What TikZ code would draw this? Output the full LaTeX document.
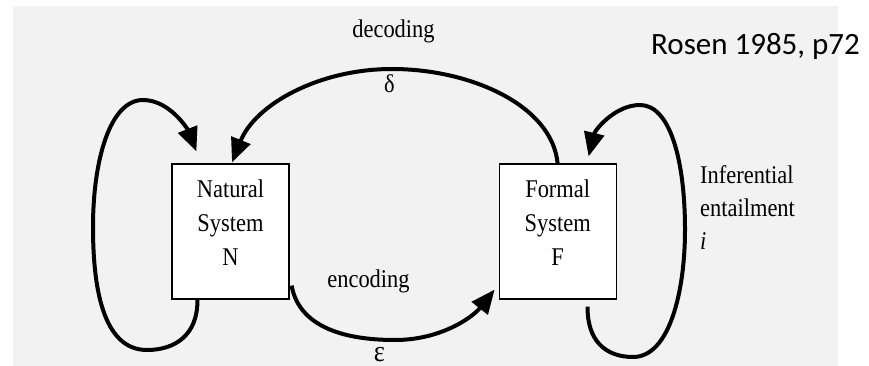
\documentclass[tikz,border=0pt]{standalone}
\usepackage{fontspec}
\setmainfont{Liberation Serif}[FakeStretch=0.88]
\newfontfamily\rosenfont{Carlito}
\usetikzlibrary{calc, arrows.meta, positioning}
\definecolor{bggray}{RGB}{242,242,242}
\tikzstyle{sysbox} = [draw=black, fill=white, line width=1.2pt,
  rectangle, inner sep=0pt]
\tikzstyle{labtext} = [inner sep=0pt, font=\fontsize{25.5}{33}\selectfont]
\tikzstyle{bigarrow} = [line width=4pt, -{Triangle[length=24pt,width=20pt]}]
\tikzstyle{refnote} = [inner sep=0pt, font=\rosenfont\fontsize{31}{36}\selectfont]

\begin{document}
\begin{tikzpicture}[x=1pt, y=-1pt]
  \useasboundingbox (0,0) rectangle (869,366);
  \fill[bggray] (13,6) rectangle (838,366);

  \node [sysbox] (N) at (230.5,231.5) {%
    \begin{minipage}[c][135pt][t]{117pt}
      \centering\fontsize{25.5}{34}\selectfont
      \rule{0pt}{33pt}Natural\\System\\N
    \end{minipage}
  };
  \node [sysbox, right=209pt of N] (F) {%
    \begin{minipage}[c][135pt][t]{117pt}
      \centering\fontsize{25.5}{34}\selectfont
      \rule{0pt}{33pt}Formal\\System\\F
    \end{minipage}
  };

  \draw [bigarrow] ($(N.south west)+(26,0)$)
    .. controls (198,335) and (175,350) .. (147,350)
    .. controls (102,350) and (93,285) .. (93,227)
    .. controls (93,160) and (110,100) .. (143,100)
    .. controls (170,100) and (188,130) .. ($(N.north west)+(25,-12)$);
  \draw [bigarrow] ($(F.north west)+(59,0)$)
    .. controls (552,105) and (470,69) .. (392,69)
    .. controls (318,69) and (255,105) .. ($(N.north)+(1.5,-1)$);
  \draw [bigarrow] ($(N.south east)+(2,-14)$)
    .. controls (300,332) and (355,340) .. (395,340)
    .. controls (440,340) and (472,318) .. ($(F.south west)+(-4,-10)$);
  \draw [bigarrow] ($(F.south west)+(89,7)$)
    .. controls (587,340) and (605,357) .. (633,357)
    .. controls (670,357) and (685,290) .. (685,230)
    .. controls (685,160) and (670,105) .. (640,105)
    .. controls (615,105) and (595,130) .. ($(F.north west)+(90,-7)$);

  \node [labtext, anchor=base] (dec) at (393.5,38) {decoding};
  \node [labtext, anchor=base] (delta) at (389.5,93) {δ};
  \node [labtext, anchor=base] (enc) at (368.5,287) {encoding};
  \node [labtext, anchor=base, font=\fontsize{30}{30}\selectfont] (eps) at (379.5,361) {ε};
  \node [labtext, align=left, anchor=north west] (infer) at (700,165.5)
    {Inferential\\entailment\\\textit{i}};
  \node [refnote, anchor=base west] (ref) at (651,55) {Rosen 1985, p72};
\end{tikzpicture}
\end{document}
